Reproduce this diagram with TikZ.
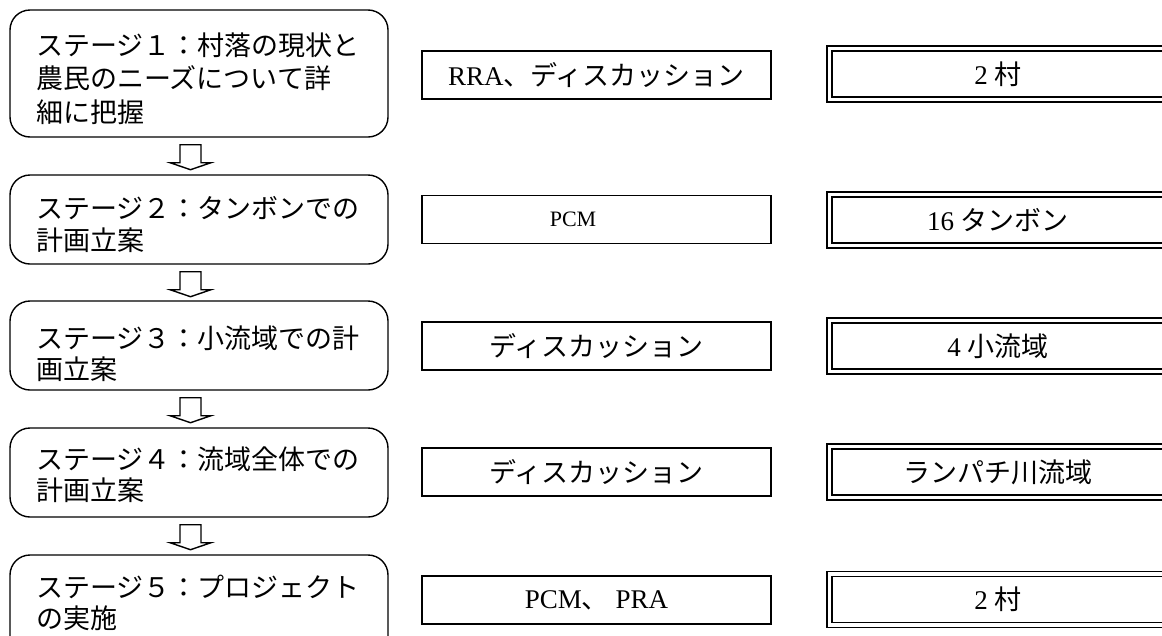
\documentclass[tikz,border=0pt]{standalone}
\usepackage{fontspec}
\setmainfont{Liberation Serif}
\newfontfamily\jp{Noto Sans CJK JP}
\usetikzlibrary{calc}
\tikzset{
  stagebox/.style={draw=black, line width=1.4pt, rounded corners=20pt,
    minimum width=378pt, inner sep=0pt, anchor=center},
  stagetext/.style={align=left, text width=340pt, inner sep=0pt, anchor=base west,
    font=\jp\fontsize{27}{32}\selectfont},
  methodbox/.style={draw=black, line width=1.4pt, minimum width=349pt, minimum height=48pt,
    inner sep=0pt, font=\fontsize{27}{30}\selectfont},
  scopebox/.style={draw=black, line width=1.6pt, double=white, double distance=3.4pt,
    minimum width=337pt, minimum height=51pt, inner sep=0pt, font=\fontsize{27}{30}\selectfont},
  hollowarrow/.style={draw=black, line width=1.4pt, fill=white, line join=miter}
}
\begin{document}
\begin{tikzpicture}[x=1pt,y=-1pt]
\useasboundingbox (0,0) rectangle (1162,635);
\clip (0,0) rectangle (1162,635);
% stage boxes
\node[stagebox, minimum height=127pt] (s1) at (199,73.5) {};
\node[stagebox, minimum height=89pt] (s2) at (199,219.5) {};
\node[stagebox, minimum height=89pt] (s3) at (199,345.5) {};
\node[stagebox, minimum height=89pt] (s4) at (199,472.5) {};
\node[stagebox, minimum height=110pt] (s5) at (199,610) {};
\node[stagetext, font=\jp\fontsize{27}{33.5}\selectfont] (s1t) at (36,55) {ステージ１：村落の現状と\\農民のニーズについて詳\\細に把握};
\node[stagetext] (s2t) at (36,218) {ステージ２：タンボンでの\\計画立案};
\node[stagetext, font=\jp\fontsize{27}{31}\selectfont] (s3t) at (36,348) {ステージ３：小流域での計\\画立案};
\node[stagetext, font=\jp\fontsize{27}{31}\selectfont] (s4t) at (36,469) {ステージ４：流域全体での\\計画立案};
\node[stagetext, font=\jp\fontsize{27}{31}\selectfont] (s5t) at (36,597) {ステージ５：プロジェクト\\の実施};
% block arrows
\foreach \a in {s1,s2,s3,s4}{
  \draw[hollowarrow] ($(\a.south)+(-19,7)$) -- ++(21,0) -- ++(0,18) -- ++(10,0)
    -- ++(-20.5,7) -- ++(-20.5,-7) -- ++(10,0) -- cycle;
}
% method boxes
\node[methodbox] (m1) at (596.5,75) {RRA{\jp 、ディスカッション}};
\node[methodbox] (m2) at (596.5,219.5) {};
\node[font=\fontsize{22}{26}\selectfont, inner sep=0pt] (m2t) at (573,219.5) {PCM};
\node[methodbox] (m3) at (596.5,346) {\jp ディスカッション};
\node[methodbox] (m4) at (596.5,472) {\jp ディスカッション};
\node[methodbox] (m5) at (596.5,600) {PCM{\jp 、} PRA};
% scope boxes
\node[scopebox] (r1) at (998,74) {2 {\jp 村}};
\node[scopebox] (r2) at (998,220) {16 {\jp タンボン}};
\node[scopebox] (r3) at (998,346) {4 {\jp 小流域}};
\node[scopebox] (r4) at (998,472) {\jp ランパチ川流域};
\node[scopebox] (r5) at (998,599.5) {2 {\jp 村}};
\end{tikzpicture}
\end{document}
